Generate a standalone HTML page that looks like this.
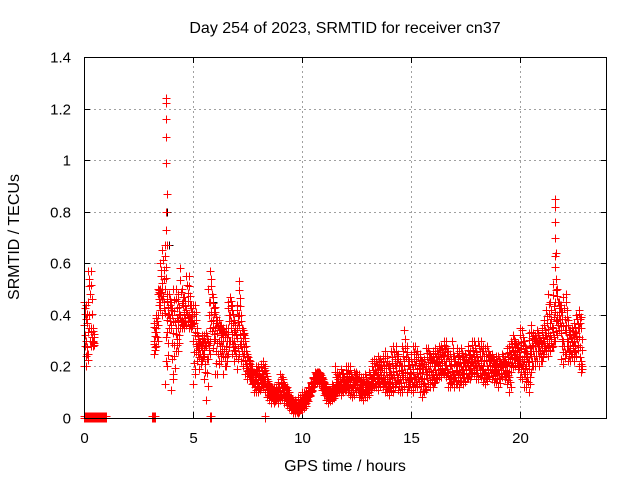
<!DOCTYPE html>
<html><head><meta charset="utf-8"><style>
body{margin:0;background:#fff;}
svg{display:block;font-family:"Liberation Sans",sans-serif;}
</style></head><body>
<svg id="chart" width="640" height="480">
<text x="345" y="33" text-anchor="middle" font-size="16">Day 254 of 2023, SRMTID for receiver cn37</text>
<text transform="translate(19,237) rotate(-90)" text-anchor="middle" font-size="16">SRMTID / TECUs</text>
<text x="345" y="471" text-anchor="middle" font-size="16">GPS time / hours</text>
<g id="grid"></g>
<g id="ticks"></g>
<g id="marks"></g>
<rect x="84.5" y="57.5" width="522" height="361" fill="none" stroke="#000" stroke-width="1"/>
</svg>
<script>
const xTicks=[0,5,10,15,20];
const yTicks=[0,0.2,0.4,0.6,0.8,1,1.2,1.4];
const yTickLabels=["0","0.2","0.4","0.6","0.8","1","1.2","1.4"];
const times=[0,0.1,0.2,0.3,0.4,3.2,3.3,3.4,3.5,3.6,3.7,3.8,3.9,4.0,4.1,4.2,4.3,4.4,4.5,4.6,4.7,4.8,4.9,5.0,5.1,5.2,5.3,5.4,5.5,5.6,5.7,5.8,5.9,6.0,6.1,6.2,6.3,6.4,6.5,6.6,6.7,6.8,6.9,7.0,7.1,7.2,7.3,7.4,7.5,7.6,7.7,7.8,7.9,8.0,8.1,8.2,8.3,8.4,8.5,8.6,8.7,8.8,8.9,9.0,9.1,9.2,9.3,9.4,9.5,9.6,9.7,9.8,9.9,10.0,10.1,10.2,10.3,10.4,10.5,10.6,10.7,10.8,10.9,11.0,11.1,11.2,11.3,11.4,11.5,11.6,11.7,11.8,11.9,12.0,12.1,12.2,12.3,12.4,12.5,12.6,12.7,12.8,12.9,13.0,13.1,13.2,13.3,13.4,13.5,13.6,13.7,13.8,13.9,14.0,14.1,14.2,14.3,14.4,14.5,14.6,14.7,14.8,14.9,15.0,15.1,15.2,15.3,15.4,15.5,15.6,15.7,15.8,15.9,16.0,16.1,16.2,16.3,16.4,16.5,16.6,16.7,16.8,16.9,17.0,17.1,17.2,17.3,17.4,17.5,17.6,17.7,17.8,17.9,18.0,18.1,18.2,18.3,18.4,18.5,18.6,18.7,18.8,18.9,19.0,19.1,19.2,19.3,19.4,19.5,19.6,19.7,19.8,19.9,20.0,20.1,20.2,20.3,20.4,20.5,20.6,20.7,20.8,20.9,21.0,21.1,21.2,21.3,21.4,21.5,21.6,21.7,21.8,21.9,22.0,22.1,22.2,22.3,22.4,22.5,22.6,22.7,22.8];
const lowVals=[0.2,0.2,0.25,0.28,0.28,0.25,0.28,0.4,0.45,0.4,0.13,0.2,0.35,0.11,0.15,0.26,0.26,0.35,0.35,0.35,0.36,0.35,0.35,0.13,0.19,0.22,0.19,0.22,0.15,0.07,0.23,0.3,0.27,0.17,0.17,0.22,0.22,0.17,0.2,0.25,0.3,0.25,0.22,0.19,0.25,0.22,0.2,0.17,0.15,0.15,0.13,0.1,0.1,0.1,0.12,0.12,0.1,0.08,0.07,0.06,0.06,0.07,0.06,0.07,0.08,0.06,0.05,0.04,0.03,0.02,0.02,0.02,0.03,0.03,0.04,0.06,0.08,0.1,0.12,0.14,0.14,0.13,0.11,0.09,0.07,0.06,0.07,0.07,0.09,0.1,0.1,0.09,0.1,0.11,0.1,0.09,0.08,0.09,0.1,0.08,0.08,0.07,0.09,0.08,0.1,0.12,0.12,0.12,0.11,0.13,0.12,0.1,0.1,0.09,0.11,0.1,0.13,0.11,0.1,0.1,0.12,0.1,0.12,0.11,0.1,0.12,0.12,0.1,0.08,0.1,0.11,0.13,0.12,0.12,0.14,0.15,0.16,0.16,0.17,0.16,0.12,0.12,0.13,0.12,0.13,0.12,0.14,0.13,0.14,0.16,0.15,0.18,0.17,0.15,0.15,0.16,0.14,0.13,0.15,0.16,0.15,0.14,0.14,0.12,0.15,0.16,0.15,0.13,0.1,0.18,0.2,0.2,0.19,0.16,0.15,0.12,0.12,0.1,0.18,0.2,0.2,0.22,0.2,0.22,0.26,0.26,0.24,0.26,0.28,0.3,0.32,0.34,0.23,0.21,0.25,0.22,0.22,0.24,0.22,0.24,0.2,0.18];
const midVals=[0.36,0.3,0.45,0.35,0.3,0.3,0.35,0.48,0.5,0.5,0.5,0.38,0.4,0.35,0.33,0.35,0.38,0.4,0.38,0.4,0.42,0.4,0.38,0.3,0.32,0.28,0.27,0.28,0.27,0.28,0.3,0.45,0.38,0.35,0.33,0.3,0.3,0.3,0.28,0.35,0.4,0.3,0.3,0.35,0.4,0.3,0.3,0.22,0.2,0.18,0.16,0.14,0.15,0.13,0.16,0.17,0.15,0.12,0.1,0.1,0.09,0.1,0.1,0.1,0.12,0.1,0.08,0.06,0.05,0.04,0.04,0.04,0.05,0.06,0.07,0.08,0.1,0.12,0.14,0.16,0.17,0.16,0.14,0.12,0.1,0.09,0.09,0.1,0.12,0.14,0.13,0.13,0.13,0.15,0.14,0.14,0.12,0.14,0.14,0.12,0.12,0.12,0.12,0.12,0.13,0.15,0.17,0.18,0.17,0.18,0.16,0.15,0.16,0.15,0.17,0.18,0.2,0.16,0.15,0.2,0.2,0.18,0.16,0.17,0.18,0.16,0.17,0.2,0.18,0.15,0.2,0.2,0.2,0.18,0.2,0.22,0.22,0.23,0.24,0.22,0.18,0.16,0.18,0.17,0.2,0.2,0.2,0.19,0.2,0.22,0.2,0.23,0.24,0.2,0.22,0.22,0.2,0.18,0.2,0.22,0.2,0.19,0.2,0.19,0.2,0.21,0.2,0.2,0.18,0.25,0.26,0.25,0.22,0.24,0.23,0.22,0.2,0.22,0.26,0.28,0.28,0.3,0.28,0.28,0.3,0.32,0.33,0.32,0.35,0.45,0.4,0.4,0.33,0.3,0.36,0.3,0.28,0.3,0.3,0.33,0.35,0.22];
const highVals=[0.45,0.44,0.57,0.57,0.35,0.37,0.4,0.5,0.6,0.65,0.67,0.48,0.48,0.45,0.5,0.5,0.48,0.58,0.5,0.47,0.55,0.55,0.44,0.44,0.44,0.33,0.3,0.32,0.32,0.33,0.5,0.57,0.47,0.43,0.38,0.38,0.36,0.35,0.35,0.45,0.47,0.44,0.38,0.44,0.53,0.4,0.34,0.3,0.25,0.22,0.2,0.18,0.2,0.2,0.21,0.22,0.2,0.15,0.13,0.12,0.12,0.12,0.14,0.17,0.16,0.13,0.12,0.1,0.08,0.07,0.07,0.08,0.08,0.1,0.1,0.1,0.12,0.14,0.16,0.18,0.18,0.18,0.16,0.14,0.12,0.11,0.11,0.13,0.2,0.18,0.17,0.19,0.17,0.2,0.2,0.2,0.16,0.18,0.18,0.17,0.16,0.16,0.17,0.14,0.18,0.22,0.23,0.22,0.24,0.23,0.24,0.26,0.24,0.21,0.26,0.28,0.28,0.25,0.22,0.28,0.34,0.28,0.22,0.25,0.28,0.28,0.26,0.25,0.22,0.23,0.27,0.27,0.25,0.26,0.27,0.26,0.28,0.28,0.3,0.3,0.26,0.25,0.3,0.24,0.27,0.26,0.27,0.24,0.25,0.28,0.26,0.3,0.3,0.25,0.3,0.3,0.28,0.27,0.28,0.25,0.25,0.22,0.24,0.24,0.22,0.25,0.23,0.27,0.28,0.3,0.32,0.3,0.29,0.35,0.34,0.3,0.27,0.33,0.36,0.33,0.32,0.34,0.31,0.35,0.38,0.42,0.48,0.45,0.52,0.63,0.5,0.45,0.44,0.47,0.48,0.38,0.34,0.35,0.37,0.4,0.42,0.39];
const spikeTimes=[3.75,3.75,3.75,3.75,3.75,3.8,3.75,3.75,3.8,21.6,21.62,21.62,21.6,21.65];
const spikeVals=[1.24,1.22,1.16,1.09,0.99,0.87,0.8,0.73,0.67,0.85,0.82,0.76,0.7,0.64];
const blackTimes=[0.1,3.82,3.88,21.62,5.9,7.0];
const blackVals=[0.44,0.8,0.67,0.85,0.45,0.44];
const zeroTimes=[0,0.04,0.08,0.12,0.16,0.2,0.24,0.28,0.32,0.36,0.4,0.44,0.48,0.52,0.56,0.6,0.64,0.68,0.72,0.76,0.8,0.84,0.88,0.92,0.96,1.0,3.12,3.16,3.2,3.24,5.8,5.85,8.3];

const X0=84,X1=607,Y0=418,Y1=57;
const xs=t=>X0+(t/24)*(X1-X0);
const ys=v=>Y0-(v/1.4)*(Y0-Y1);
const NS="http://www.w3.org/2000/svg";
const grid=document.getElementById('grid'),ticks=document.getElementById('ticks'),marks=document.getElementById('marks');
function mk(tag,attrs,parent){const e=document.createElementNS(NS,tag);for(const k in attrs)e.setAttribute(k,attrs[k]);parent.appendChild(e);return e;}
yTicks.forEach((v,i)=>{
  const y=Math.round(ys(v))+0.5;
  if(i>0&&i<yTicks.length-1){const g=mk('line',{x1:X0,x2:X1,y1:y,y2:y,stroke:'#a0a0a0','stroke-dasharray':'2,3'},grid);
  
  }
  mk('line',{x1:X0,x2:X0+6,y1:y,y2:y,stroke:'#000'},ticks);
  mk('line',{x1:X1-6,x2:X1,y1:y,y2:y,stroke:'#000'},ticks);
  const t=mk('text',{x:71,y:y+5,'text-anchor':'end','font-size':15},ticks);
  t.textContent=yTickLabels[i];
  
  
});
xTicks.forEach((v,i)=>{
  const x=Math.round(xs(v))+0.5;
  if(i>0){const g=mk('line',{x1:x,x2:x,y1:Y0,y2:Y1,stroke:'#a0a0a0','stroke-dasharray':'2,3'},grid);
  
  }
  mk('line',{x1:x,x2:x,y1:Y0,y2:Y0-6,stroke:'#000'},ticks);
  mk('line',{x1:x,x2:x,y1:Y1,y2:Y1+6,stroke:'#000'},ticks);
  const t=mk('text',{x:x,y:443,'text-anchor':'middle','font-size':15},ticks);
  t.textContent=String(v);
  
  
});
let d='';
function plus(t,v){const x=Math.round(xs(t))+0.5,y=Math.round(ys(v))+0.5;d+=`M${x-4} ${y}h8M${x} ${y-4}v8`;}
let db='';
blackTimes.forEach((t,i)=>{const x=Math.round(xs(t))+0.5,y=Math.round(ys(blackVals[i]))+0.5;db+=`M${x-4} ${y}h8M${x} ${y-4}v8`;});
const pb=mk('path',{d:db,stroke:'#000',fill:'none','stroke-width':1},marks);


times.forEach((t,i)=>{
  const l=lowVals[i],m=midVals[i],h=highVals[i];
  plus(t,l);plus(t,m);plus(t,h);
  plus(t+0.05,(l+m)/2);plus(t+0.05,(m+h)/2);
  plus(t+0.025,(l+3*m)/4);plus(t+0.075,(3*m+h)/4);
  plus(t+0.075,(3*l+m)/4);plus(t+0.025,(m+3*h)/4);
});
spikeTimes.forEach((t,i)=>plus(t,spikeVals[i]));
zeroTimes.forEach(t=>{plus(t,0);plus(t,0.006);});
const p=mk('path',{d:d,stroke:'#ff0000',fill:'none','stroke-width':1},marks);


</script>
</body></html>
